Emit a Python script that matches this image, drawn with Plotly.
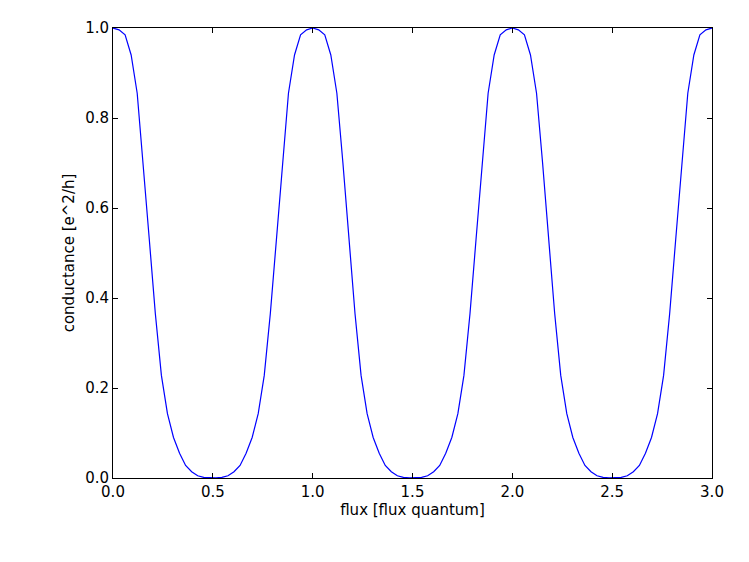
import plotly.graph_objects as go

# flux sample points (units of the flux quantum), 33 samples per period
flux = [k / 33 for k in range(100)]

# conductance, one period repeated three times
conductance = [
    1.000, 0.996, 0.985, 0.940, 0.855, 0.700, 0.530, 0.365, 0.228, 0.143, 0.090,
    0.055, 0.028, 0.014, 0.005, 0.0013, 0.0002, 0.0002, 0.0013, 0.005, 0.014, 0.028,
    0.055, 0.090, 0.143, 0.228, 0.365, 0.530, 0.700, 0.855, 0.940, 0.985, 0.996,
    1.000, 0.996, 0.985, 0.940, 0.855, 0.700, 0.530, 0.365, 0.228, 0.143, 0.090,
    0.055, 0.028, 0.014, 0.005, 0.0013, 0.0002, 0.0002, 0.0013, 0.005, 0.014, 0.028,
    0.055, 0.090, 0.143, 0.228, 0.365, 0.530, 0.700, 0.855, 0.940, 0.985, 0.996,
    1.000, 0.996, 0.985, 0.940, 0.855, 0.700, 0.530, 0.365, 0.228, 0.143, 0.090,
    0.055, 0.028, 0.014, 0.005, 0.0013, 0.0002, 0.0002, 0.0013, 0.005, 0.014, 0.028,
    0.055, 0.090, 0.143, 0.228, 0.365, 0.530, 0.700, 0.855, 0.940, 0.985, 0.996,
    1.000,
]

x_ticks = [0.0, 0.5, 1.0, 1.5, 2.0, 2.5, 3.0]
y_ticks = [0.0, 0.2, 0.4, 0.6, 0.8, 1.0]

fig = go.Figure()
fig.add_trace(go.Scatter(x=flux, y=conductance, mode='lines',
                         line=dict(color='#0000ff', width=1.2), showlegend=False))

axis_style = dict(showgrid=False, zeroline=False, showline=True, linecolor='black',
                  linewidth=1, mirror='ticks', ticks='inside', ticklen=5,
                  tickcolor='black', tickwidth=1,
                  tickfont=dict(family='DejaVu Sans', size=15, color='black'))

# the page body adds an 8px margin, so the figure is drawn 8px smaller/shifted
fig.update_layout(
    width=741, height=554,
    margin=dict(l=105, r=37, t=20, b=84),
    paper_bgcolor='white', plot_bgcolor='white',
    xaxis=dict(range=[0, 3], tickvals=x_ticks, ticktext=[f'{v:.1f}' for v in x_ticks],
               title=dict(text='flux [flux quantum]', standoff=4,
                          font=dict(family='DejaVu Sans', size=15, color='black')),
               **axis_style),
    yaxis=dict(range=[0, 1], tickvals=y_ticks, ticktext=[f'{v:.1f}' for v in y_ticks],
               title=dict(text='conductance [e^2/h]', standoff=6,
                          font=dict(family='DejaVu Sans', size=15, color='black')),
               **axis_style),
)

fig.write_html("out.html")
